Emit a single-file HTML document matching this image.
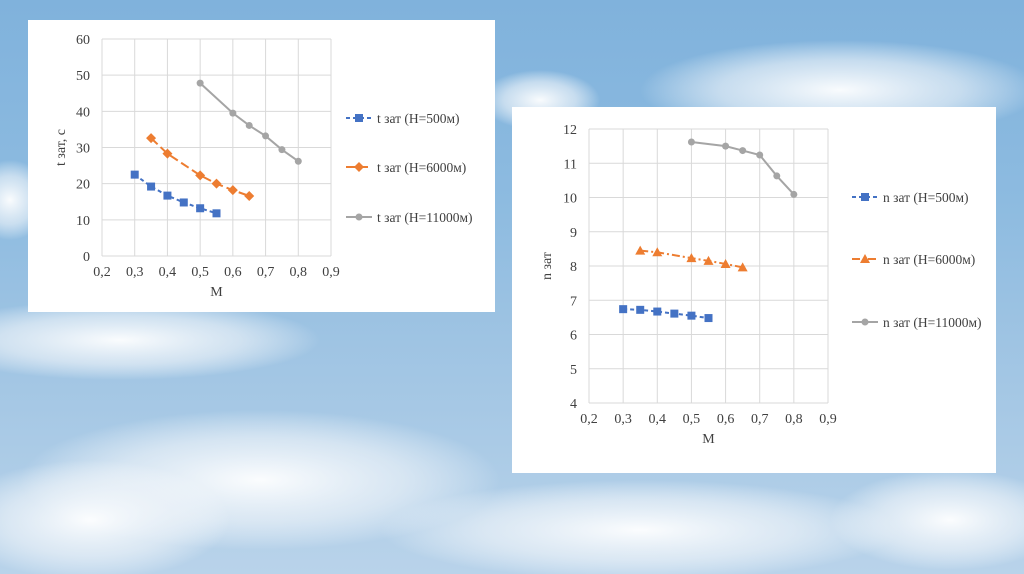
<!DOCTYPE html>
<html><head><meta charset="utf-8">
<style>
html,body{margin:0;padding:0;width:1024px;height:574px;overflow:hidden;}
body{background:linear-gradient(180deg,#80b2dc 0%,#8dbbe0 35%,#9fc4e3 60%,#b9d3ea 100%);font-family:"Liberation Serif",serif;}
svg{position:absolute;left:0;top:0;}
</style></head>
<body>
<svg width="1024" height="574">
<defs>
<radialGradient id="cl"><stop offset="0" stop-color="#fff" stop-opacity="0.95"/><stop offset="0.6" stop-color="#f2f6fa" stop-opacity="0.6"/><stop offset="1" stop-color="#fff" stop-opacity="0"/></radialGradient>
</defs>
<g>
<ellipse cx="840" cy="90" rx="200" ry="50" fill="url(#cl)"/>
<ellipse cx="120" cy="340" rx="200" ry="40" fill="url(#cl)"/>
<ellipse cx="260" cy="480" rx="240" ry="70" fill="url(#cl)"/>
<ellipse cx="90" cy="520" rx="140" ry="60" fill="url(#cl)"/>
<ellipse cx="640" cy="530" rx="260" ry="50" fill="url(#cl)"/>
<ellipse cx="950" cy="520" rx="120" ry="50" fill="url(#cl)"/>
<ellipse cx="10" cy="200" rx="40" ry="40" fill="url(#cl)"/>
<ellipse cx="540" cy="100" rx="60" ry="30" fill="url(#cl)"/>
</g>
<rect x="28" y="20" width="467" height="292" fill="#fff"/>
<rect x="512" y="107" width="484" height="366" fill="#fff"/>
<g id="left"></g>
<g id="right"></g>
</svg>
<script>
const NS="http://www.w3.org/2000/svg";
const xTicks=[0.2,0.3,0.4,0.5,0.6,0.7,0.8,0.9];
const tTicks=[0,10,20,30,40,50,60];
const nTicks=[4,5,6,7,8,9,10,11,12];
const tM500=[0.3,0.35,0.4,0.45,0.5,0.55];
const tV500=[22.5,19.2,16.7,14.8,13.2,11.8];
const tM6000=[0.35,0.4,0.5,0.55,0.6,0.65];
const tV6000=[32.6,28.3,22.3,20,18.2,16.6];
const tM11000=[0.5,0.6,0.65,0.7,0.75,0.8];
const tV11000=[47.8,39.5,36.1,33.2,29.4,26.2];
const nM500=[0.3,0.35,0.4,0.45,0.5,0.55];
const nV500=[6.74,6.72,6.67,6.61,6.55,6.48];
const nM6000=[0.35,0.4,0.5,0.55,0.6,0.65];
const nV6000=[8.45,8.4,8.23,8.15,8.06,7.96];
const nM11000=[0.5,0.6,0.65,0.7,0.75,0.8];
const nV11000=[11.62,11.5,11.37,11.24,10.63,10.09];
const tLabels=["t зат (Н=500м)","t зат (Н=6000м)","t зат (Н=11000м)"];
const nLabels=["n зат (Н=500м)","n зат (Н=6000м)","n зат (Н=11000м)"];

function mk(tag,attrs,parent){const e=document.createElementNS(NS,tag);for(const k in attrs)e.setAttribute(k,attrs[k]);parent.appendChild(e);return e;}
function marker(g,type,x,y,color){
  let m;
  if(type==='sq') m=mk('rect',{x:x-4,y:y-4,width:8,height:8,fill:color},g);
  else if(type==='dia') m=mk('polygon',{points:`${x},${y-5} ${x+5},${y} ${x},${y+5} ${x-5},${y}`,fill:color},g);
  else if(type==='tri') m=mk('polygon',{points:`${x},${y-5} ${x+5},${y+4} ${x-5},${y+4}`,fill:color},g);
  else m=mk('circle',{cx:x,cy:y,r:3.5,fill:color},g);
  
  
}
function chart(g,cfg){
  const sx=v=>cfg.x0+(v-0.2)/(0.7)*(cfg.x1-cfg.x0);
  const sy=v=>cfg.y0-(v-cfg.ymin)/(cfg.ymax-cfg.ymin)*(cfg.y0-cfg.y1);
  xTicks.forEach(t=>{
    const l=mk('line',{x1:sx(t),x2:sx(t),y1:cfg.y1,y2:cfg.y0,stroke:'#d9d9d9','stroke-width':1},g);
    
    const tx=mk('text',{x:sx(t),y:cfg.y0+20,'text-anchor':'middle','font-size':14,fill:'#404040'},g);
    tx.textContent=t.toFixed(1).replace('.',',');
    
  });
  cfg.yt.forEach(t=>{
    const l=mk('line',{x1:cfg.x0,x2:cfg.x1,y1:sy(t),y2:sy(t),stroke:'#d9d9d9','stroke-width':1},g);
    
    const tx=mk('text',{x:cfg.x0-12,y:sy(t)+5,'text-anchor':'end','font-size':14,fill:'#404040'},g);
    tx.textContent=t;
    
  });
  const xt=mk('text',{x:(cfg.x0+cfg.x1)/2,y:cfg.y0+40,'text-anchor':'middle','font-size':14,fill:'#404040'},g);
  xt.textContent='M';
  const yx=cfg.x0-cfg.ytOff, yy=(cfg.y0+cfg.y1)/2;
  const yt=mk('text',{x:yx,y:yy,'text-anchor':'middle','font-size':14,fill:'#404040',transform:`rotate(-90 ${yx} ${yy})`},g);
  yt.textContent=cfg.ytitle;
  cfg.series.forEach((s,i)=>{
    const pts=s.m.map((m,j)=>sx(m)+','+sy(s.v[j])).join(' ');
    const pl=mk('polyline',{points:pts,fill:'none',stroke:s.c,'stroke-width':2,'stroke-dasharray':s.d},g);
    
    s.m.forEach((m,j)=>marker(g,s.mk,sx(m),sy(s.v[j]),s.c));
    const ly=cfg.legY[i];
    const ll=mk('line',{x1:cfg.legX,x2:cfg.legX+26,y1:ly,y2:ly,stroke:s.c,'stroke-width':2,'stroke-dasharray':s.d},g);
    
    marker(g,s.mk,cfg.legX+13,ly,s.c);
    const lt=mk('text',{x:cfg.legX+31,y:ly+5,'font-size':13.5,fill:'#404040'},g);
    lt.textContent=cfg.labels[i];
  });
}
chart(document.getElementById('left'),{x0:102,x1:331,y0:256,y1:39,ymin:0,ymax:60,yt:tTicks,ytitle:'t зат, с',ytOff:37,
  legX:346,legY:[118,167,217],labels:tLabels,
  series:[{m:tM500,v:tV500,c:'#4472c4',d:'4 3',mk:'sq'},{m:tM6000,v:tV6000,c:'#ed7d31',d:'9 4',mk:'dia'},{m:tM11000,v:tV11000,c:'#a5a5a5',d:'',mk:'ci'}]});
chart(document.getElementById('right'),{x0:589,x1:828,y0:403,y1:129,ymin:4,ymax:12,yt:nTicks,ytitle:'n зат',ytOff:38,
  legX:852,legY:[197,259,322],labels:nLabels,
  series:[{m:nM500,v:nV500,c:'#4472c4',d:'4 3',mk:'sq'},{m:nM6000,v:nV6000,c:'#ed7d31',d:'8 3 2 3',mk:'tri'},{m:nM11000,v:nV11000,c:'#a5a5a5',d:'',mk:'ci'}]});
</script>
</body></html>
